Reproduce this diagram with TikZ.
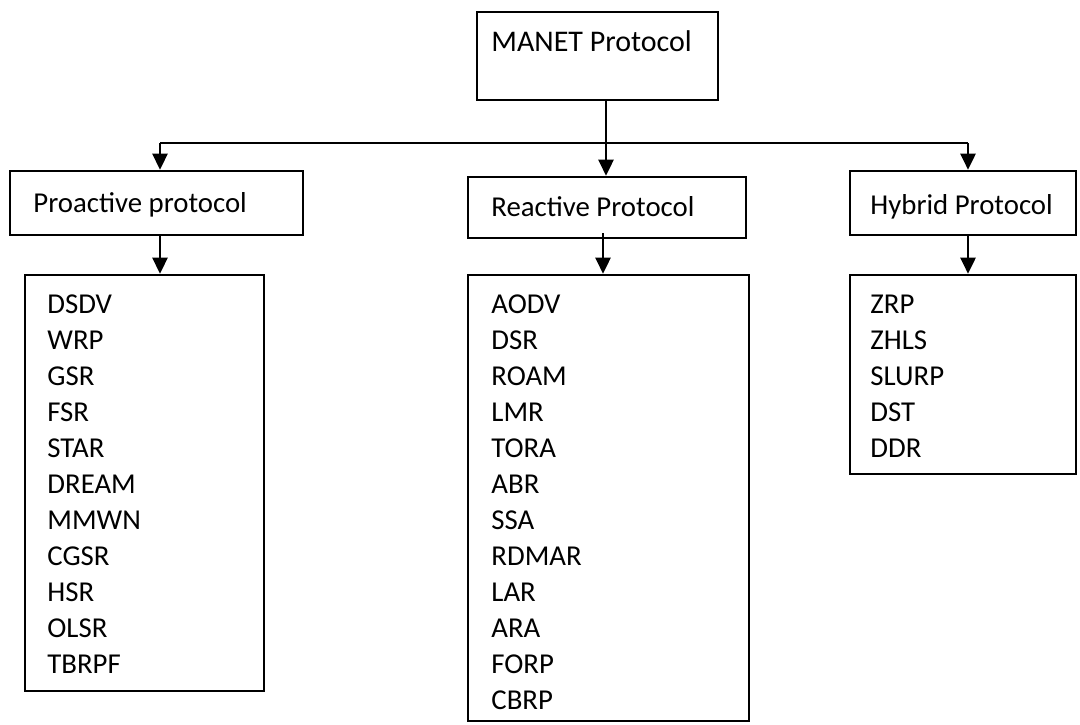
\documentclass[tikz,border=0pt]{standalone}
\usepackage{fontspec}
\setmainfont{Carlito}
\usetikzlibrary{arrows.meta,fit}
\begin{document}
\begin{tikzpicture}[x=0.5pt,y=-0.5pt,
  box/.style={draw, line width=1.3pt, inner sep=0pt},
  lbl/.style={anchor=base west, inner sep=0pt, font=\fontsize{14.4}{17}\selectfont},
  item/.style={lbl},
  link/.style={line width=1.3pt},
  arr/.style={line width=1.3pt, -{Triangle[length=8pt,width=7.5pt]}}]
\useasboundingbox (0,0) rectangle (1080,724);

% root
\node[box, fit={(477,12) (718,100)}] (root) {};
\node[lbl, font=\fontsize{15}{18}\selectfont] (rootT) at (491,51) {MANET Protocol};

% category boxes
\node[box, fit={(10,171) (303,235)}] (pro) {};
\node[lbl] (proT) at (33,212) {Proactive protocol};
\node[box, fit={(468,177) (746,238)}] (rea) {};
\node[lbl] (reaT) at (491,216) {Reactive Protocol};
\node[box, fit={(850,171) (1076,235)}] (hyb) {};
\node[lbl] (hybT) at (870,214) {Hybrid Protocol};

% protocol lists
\node[box, fit={(25,275) (264,691)}] (proL) {};
\node[box, fit={(468,275) (749,721)}] (reaL) {};
\node[box, fit={(850,275) (1076,474)}] (hybL) {};

\foreach \t [count=\i from 0] in {DSDV,WRP,GSR,FSR,STAR,DREAM,MMWN,CGSR,HSR,OLSR,TBRPF}
  \node[item] (pro\i) at (47,{313.5+36*\i}) {\t};
\foreach \t [count=\i from 0] in {AODV,DSR,ROAM,LMR,TORA,ABR,SSA,RDMAR,LAR,ARA,FORP,CBRP}
  \node[item] (rea\i) at (491,{313.5+36*\i}) {\t};
\foreach \t [count=\i from 0] in {ZRP,ZHLS,SLURP,DST,DDR}
  \node[item] (hyb\i) at (870,{313.5+36*\i}) {\t};

% connectors
\coordinate (J) at (606,143);
\coordinate (JL) at (160,143);
\coordinate (JR) at (968,143);
\coordinate (RX) at (603,0);

\draw[link] (root.south -| J) -- (J);
\draw[link] (JL) -- (JR);
\draw[arr] (JL) -- (pro.north -| JL);
\draw[arr] (J) -- (rea.north -| J);
\draw[arr] (JR) -- (hyb.north -| JR);

\draw[arr] (pro.south -| JL) -- (proL.north -| JL);
\draw[arr] ([yshift=3pt]rea.south -| RX) -- (reaL.north -| RX);
\draw[arr] (hyb.south -| JR) -- (hybL.north -| JR);
\end{tikzpicture}
\end{document}
